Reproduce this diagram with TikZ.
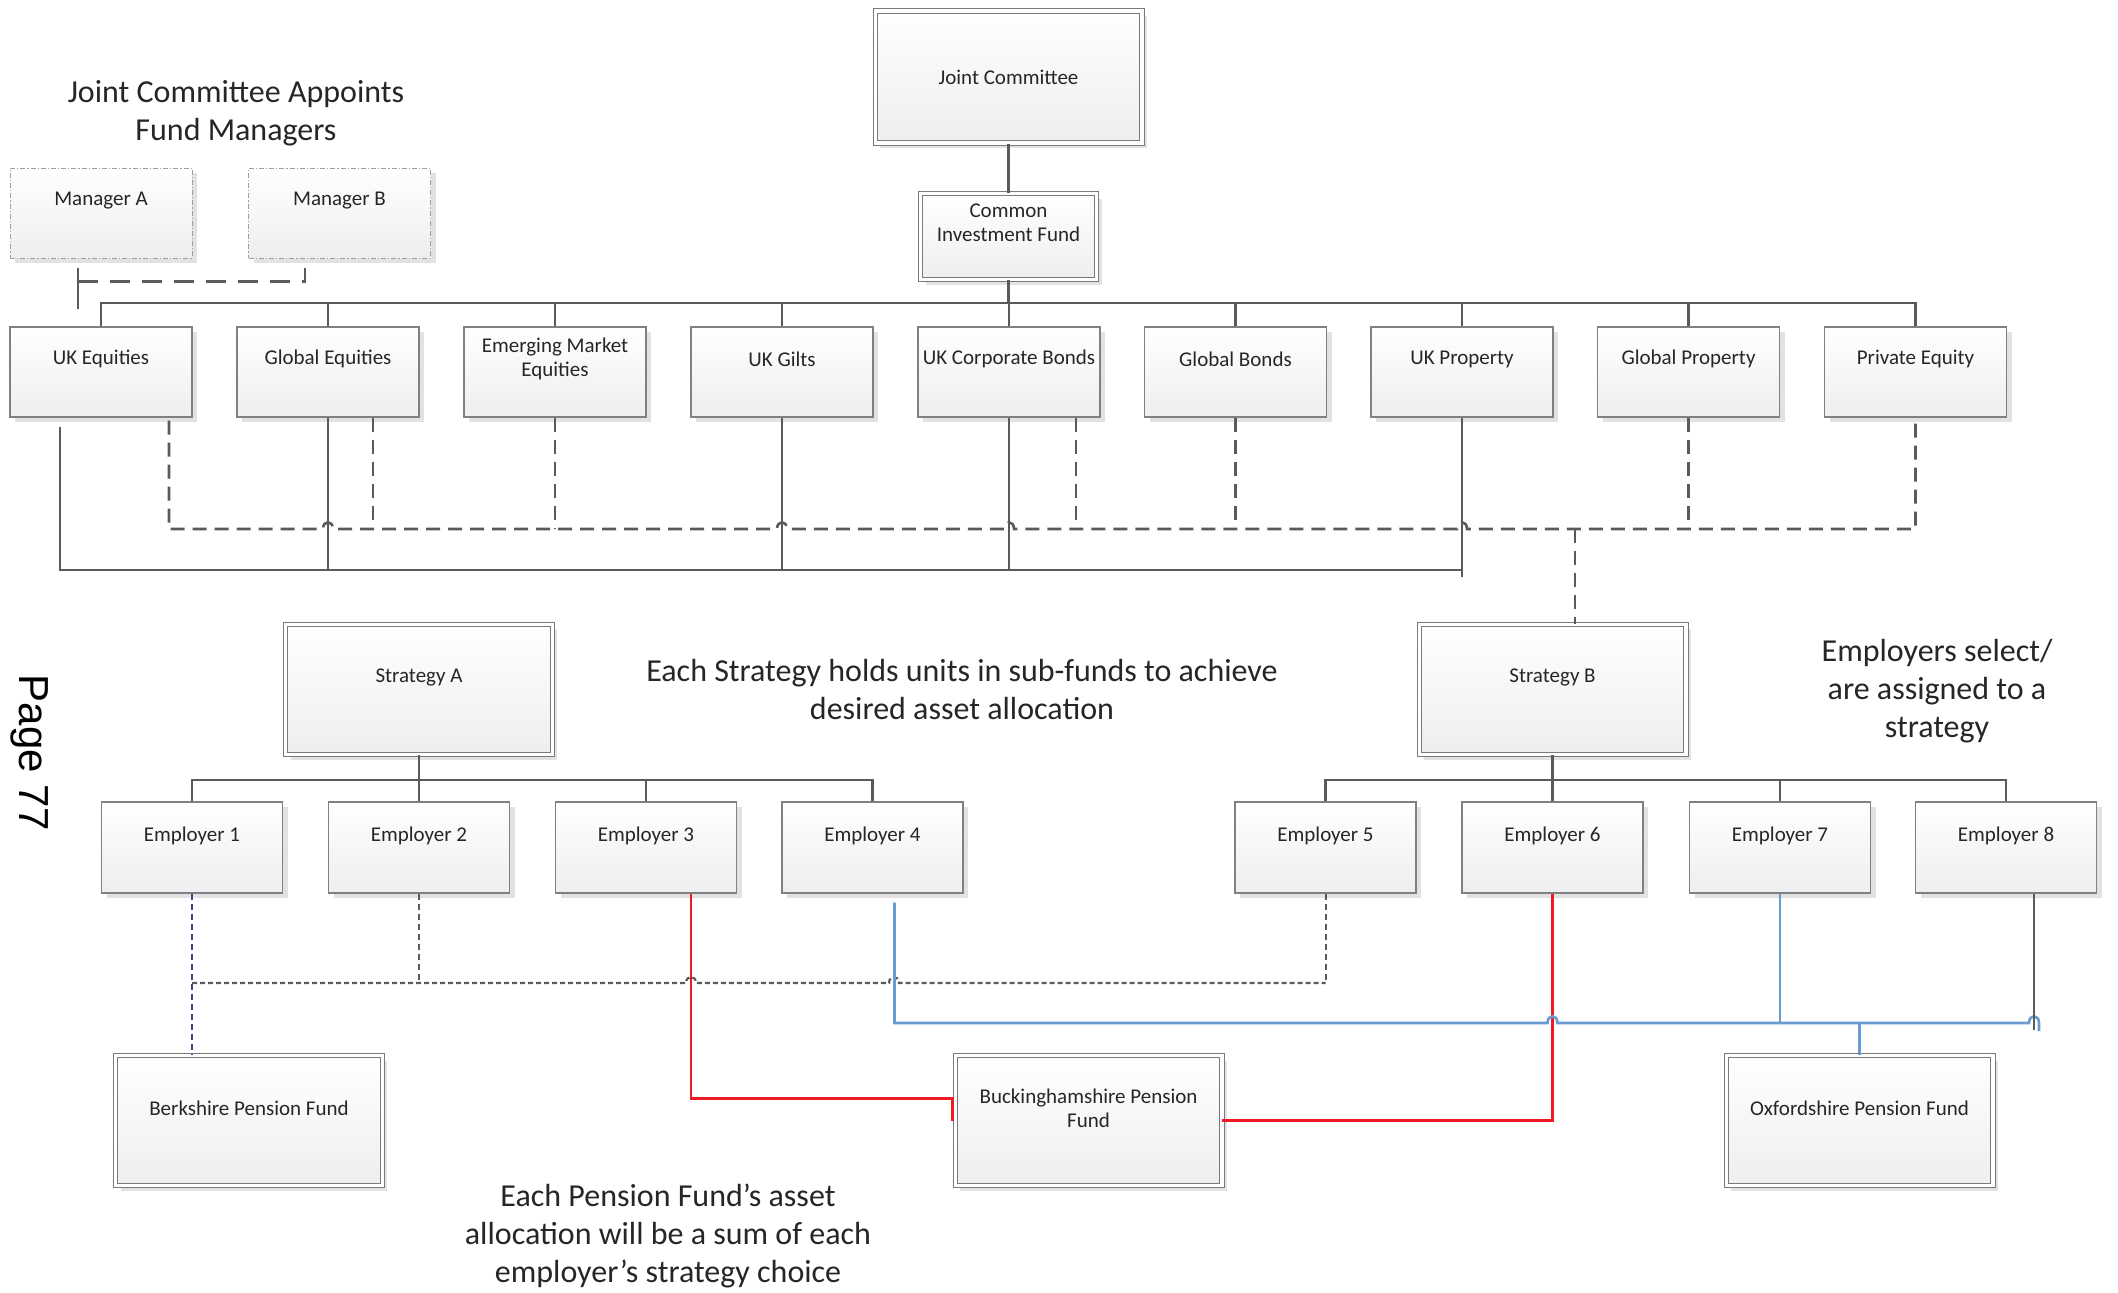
\documentclass[tikz,border=0pt]{standalone}
\usepackage{fontspec}
\setmainfont{Carlito}
\newfontfamily\pagefont{Liberation Sans}
\usetikzlibrary{shadows,calc}
\definecolor{boxline}{HTML}{808080}
\definecolor{boxbot}{HTML}{EDEEEF}
\definecolor{shadowc}{HTML}{E2E2E2}
\definecolor{linec}{HTML}{5A5A5A}
\definecolor{redc}{HTML}{ED1C24}
\definecolor{bluec}{HTML}{6A9BD0}
\definecolor{purplec}{HTML}{4F3E8C}
\definecolor{dblc}{HTML}{7A7A7A}
\begin{document}
\begin{tikzpicture}[x=0.5pt,y=-0.5pt,
  base/.style={top color=white, bottom color=boxbot,
    drop shadow={shadow xshift=2.5pt,shadow yshift=-2.5pt,fill=shadowc,opacity=1},
    inner sep=0pt},
  sbox/.style={base, draw=boxline, line width=0.6pt, minimum width=91pt, minimum height=45pt},
  mbox/.style={base, draw=gray!75, line width=0.5pt,
    dash pattern=on 2.5pt off 1pt on 0.6pt off 1pt, minimum width=91pt, minimum height=45pt},
  dbox/.style={base, draw=dblc, line width=0.5pt, double=white, double distance=1.6pt},
  bigbox/.style={dbox, minimum width=133.4pt, minimum height=65pt},
  smallbox/.style={dbox, minimum width=88pt, minimum height=43pt},
  txt/.style={font=\fontsize{10.5}{12}\selectfont, text=black!85, align=center, inner sep=0pt},
  note/.style={font=\fontsize{16}{19}\selectfont, text=black!85, align=center, inner sep=0pt},
  conn/.style={draw=linec, line width=1.3pt},
  dconn/.style={draw=linec, line width=1.3pt, dash pattern=on 7pt off 4pt},
  mconn/.style={draw=linec, line width=1.3pt, dash pattern=on 10pt off 6pt},
  dotconn/.style={draw=linec, line width=1.1pt, dash pattern=on 2.5pt off 1.5pt},
  sdconn/.style={draw=linec, line width=1pt, dash pattern=on 3pt off 2pt},
  pconn/.style={draw=purplec, line width=1pt, dash pattern=on 3pt off 2pt},
  rconn/.style={draw=redc, line width=1.2pt},
  bconn/.style={draw=bluec, line width=1.3pt}
]
\fill[white] (0,0) rectangle (2118,1292);
\useasboundingbox (0,0) rectangle (2118,1292);

% ---------- top ----------
\node[bigbox, minimum height=66pt] (jc) at (1008.5,77) {};
\node[txt] (jct) at (1008.5,77) {Joint Committee};
\node[smallbox] (cif) at (1008.5,236.5) {};
\node[txt] (cift) at (1008.5,223) {Common\\Investment Fund};

% ---------- managers ----------
\node[note] (title) at (236,113) {Joint Committee Appoints\\Fund Managers};
\node[mbox] (manA) at (101,213) {};
\node[txt] (manAt) at (101,201) {Manager A};
\node[mbox] (manB) at (339.5,213) {};
\node[txt] (manBt) at (339.5,201) {Manager B};

% ---------- sub-funds ----------
\foreach \n/\x/\t in {ukeq/101/UK Equities, gleq/328/Global Equities, gilts/782/UK Gilts,
  corp/1009/UK Corporate Bonds, glb/1235.5/Global Bonds, ukp/1462/UK Property,
  glp/1688.5/Global Property, pe/1915.5/Private Equity}{
  \node[sbox] (\n) at (\x,372) {};
  \node[txt] (\n t) at (\x,359) {\t};
}
\node[sbox] (emeq) at (555,372) {};
\node[txt] (emeqt) at (555,359) {Emerging Market\\Equities};

% ---------- strategies ----------
\node[bigbox] (stratA) at (419,689.5) {};
\node[txt] (stratAt) at (419,677) {Strategy A};
\node[bigbox] (stratB) at (1552.5,689.5) {};
\node[txt] (stratBt) at (1552.5,677) {Strategy B};

\node[note] (noteS) at (962,689) {Each Strategy holds units in sub-funds to achieve\\desired asset allocation};
\node[note] (noteE) at (1937,691) {Employers select/\\are assigned to a\\strategy};

% ---------- employers ----------
\foreach \i/\x in {1/192,2/419,3/646,4/872.5,5/1325.5,6/1552.5,7/1780,8/2006}{
  \node[sbox, minimum width=90.5pt, minimum height=45.5pt] (emp\i) at (\x,847.5) {};
  \node[txt] (emp\i t) at (\x,836) {Employer \i};
}

% ---------- pension funds ----------
\node[bigbox] (berk) at (249,1120.5) {};
\node[txt] (berkt) at (249,1108) {Berkshire Pension Fund};
\node[bigbox] (buck) at (1088.5,1120.5) {};
\node[txt] (buckt) at (1088.5,1108) {Buckinghamshire Pension\\Fund};
\node[bigbox] (oxf) at (1859.5,1120.5) {};
\node[txt] (oxft) at (1859.5,1108) {Oxfordshire Pension Fund};

\node[note] (noteP) at (668,1236) {Each Pension Fund’s asset\\allocation will be a sum of each\\employer’s strategy choice};

\node[rotate=-90, font=\pagefont\fontsize{21}{24}\selectfont, inner sep=0pt] (page) at (30,753) {Page 77};

% ---------- connectors: top ----------
\coordinate (bT) at (0,303);
\draw[conn] (jc.south) -- (cif.north);
\draw[conn] (cif.south) -- (cif.south |- bT);
\draw[conn] (ukeq.north) -- (ukeq.north |- bT) -- (pe.north |- bT) -- (pe.north);
\foreach \n in {gleq,emeq,gilts,corp,glb,ukp,glp}{
  \draw[conn] (\n.north) -- (\n.north |- bT);
}

% managers
\coordinate (mA1) at ($(manA.south)+(-23,9)$);
\coordinate (mA2) at ($(manA.south)+(-23,23)$);
\coordinate (mB1) at ($(manB.south)+(-34.5,9)$);
\coordinate (mB2) at ($(manB.south)+(-34.5,23)$);
\draw[conn] (mA1) -- ++(0,41);
\draw[mconn] (mA2) -- (mB2) -- (mB1);

% ---------- solid bus to Strategy A ----------
\coordinate (aB) at (0,570);
\coordinate (s1) at ($(ukeq.south)+(-41,9)$);
\draw[conn] (s1) -- (s1 |- aB) -- (1462,570) -- (1462,577);
\foreach \n in {gleq,gilts,corp,ukp}{
  \draw[conn] (\n.south) -- (\n.south |- aB);
}
\draw[conn] ($(stratA.north)+(-46,0)$ |- aB) -- ($(stratA.north)+(-46,0)$);

% ---------- dashed bus to Strategy B ----------
\coordinate (dB) at (0,529);
\coordinate (d1) at ($(ukeq.south)+(68,3)$);
\coordinate (d2) at ($(gleq.south)+(45,0)$);
\coordinate (d4) at ($(corp.south)+(67,0)$);
\draw[dconn] (d1) -- (d1 |- dB)
  -- (323,529) .. controls (323,520) and (333,520) .. (333,529)
  -- (777,529) .. controls (777,520) and (787,520) .. (787,529)
  -- (1004,529) .. controls (1004,520) and (1014,520) .. (1014,529)
  -- (1457,529) .. controls (1457,520) and (1467,520) .. (1467,529)
  -- (pe.south |- dB) -- (pe.south);
\draw[dconn] (d2) -- (d2 |- dB);
\draw[dconn] (emeq.south) -- (emeq.south |- dB);
\draw[dconn] (d4) -- (d4 |- dB);
\draw[dconn] (glb.south) -- (glb.south |- dB);
\draw[dconn] (glp.south) -- (glp.south |- dB);
\coordinate (d9) at ($(stratB.north)+(22.5,0)$);
\draw[dconn] (d9 |- dB) -- (d9);

% ---------- strategies to employers ----------
\coordinate (eB) at (0,780);
\draw[conn] (stratA.south) -- (emp2.north);
\draw[conn] (emp1.north) -- (emp1.north |- eB) -- (emp4.north |- eB) -- (emp4.north);
\draw[conn] (emp3.north) -- (emp3.north |- eB);
\draw[conn] (stratB.south) -- (emp6.north);
\draw[conn] (emp5.north) -- (emp5.north |- eB) -- (emp8.north |- eB) -- (emp8.north);
\draw[conn] (emp7.north) -- (emp7.north |- eB);

% ---------- employers to pension funds ----------
% red (Buckinghamshire)
\coordinate (r1) at ($(emp3.south)+(45,0)$);
\coordinate (r2) at ($(buck.west)+(-2,-22)$);
\draw[rconn] (r1) |- (r2) -- ($(buck.west)+(-2,0)$);
\draw[rconn] (emp6.south) |- (buck.east);

% purple (Berkshire)
\draw[pconn] (emp1.south) -- (emp1.south |- berk.north);

% dotted
\coordinate (oB) at (0,983);
\draw[sdconn] (emp2.south) -- (emp2.south |- oB);
\draw[sdconn] (emp5.south) -- (emp5.south |- oB);
\draw[dotconn] (emp1.south |- oB)
  -- (686,983) .. controls (686,975) and (696,975) .. (696,983)
  -- (889,983) .. controls (889,975) and (899,975) .. (899,983)
  -- (emp5.south |- oB);

% blue (Oxfordshire)
\coordinate (bB) at (0,1023);
\coordinate (b1) at ($(emp4.south)+(22,9)$);
\draw[bconn] (b1) -- (b1 |- bB)
  -- (1547.5,1023) .. controls (1547.5,1014) and (1557.5,1014) .. (1557.5,1023)
  -- (2029,1023) .. controls (2029,1014) and (2039,1014) .. (2039,1023) -- (2039,1031);
\draw[bconn] (emp7.south) -- (emp7.south |- bB);
\draw[bconn] (oxf.north |- bB) -- (oxf.north);

% gray (Employer 8)
\coordinate (g8) at ($(emp8.south)+(28,0)$);
\draw[conn] (g8) -- ++(0,136);
\end{tikzpicture}
\end{document}
